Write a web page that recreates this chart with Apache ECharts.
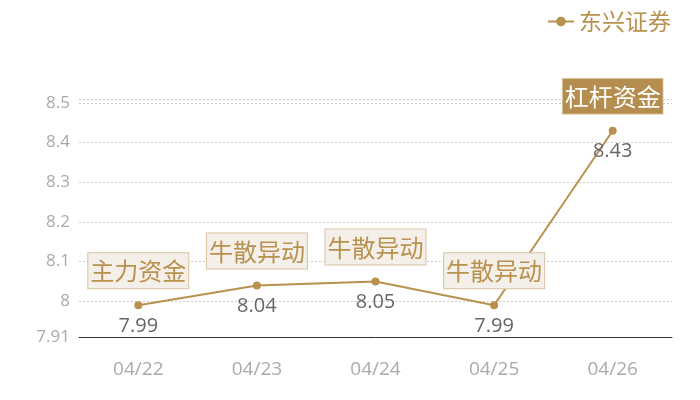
<!DOCTYPE html>
<html><head><meta charset="utf-8">
<script src="https://cdn.jsdelivr.net/npm/echarts@6/dist/echarts.min.js"></script>
<style>html,body{margin:0;padding:0;background:#fff}#c{width:700px;height:400px}</style>
</head><body><div id="c"></div>
<script>
var categories = ['04/22', '04/23', '04/24', '04/25', '04/26'];
var prices = [7.99, 8.04, 8.05, 7.99, 8.43];
var tags = ['主力资金', '牛散异动', '牛散异动', '牛散异动', '杠杆资金'];
var highlighted = [false, false, false, false, true];
var seriesName = '东兴证券';
var yMin = 7.91, yMax = 8.51;

var gold = '#b8914e';
var font = '"Noto Sans CJK SC", "Open Sans", sans-serif';
var numFont = '"Open Sans", "Noto Sans CJK SC", sans-serif';

var markData = categories.map(function (c, i) {
  var hl = highlighted[i];
  return {
    coord: [c, prices[i]],
    value: tags[i],
    label: {
      color: hl ? '#fff' : gold,
      backgroundColor: hl ? '#b58e4f' : '#f4efe8',
      borderColor: hl ? '#e6d8bf' : '#d8c3a0',
      borderWidth: 1
    }
  };
});

var chart = echarts.init(document.getElementById('c'));
chart.setOption({
  animation: false,
  textStyle: { fontFamily: font },
  legend: {
    data: [seriesName],
    right: 24, top: 5,
    itemWidth: 26, itemHeight: 12,
    textStyle: { color: gold, fontSize: 23, fontFamily: font }
  },
  grid: { left: 79, right: 28, top: 99, bottom: 63 },
  xAxis: {
    type: 'category',
    data: categories,
    axisLine: { lineStyle: { color: '#333', width: 1 } },
    axisTick: { show: false },
    axisLabel: { color: '#aaa', fontSize: 19, margin: 23, fontFamily: numFont }
  },
  yAxis: {
    type: 'value',
    min: yMin, max: yMax,
    axisLine: { show: false },
    axisTick: { show: false },
    axisLabel: { color: '#aaa', fontSize: 17, margin: 9, fontFamily: numFont },
    splitLine: { lineStyle: { color: '#ccc', type: [2, 2], width: 1 } }
  },
  series: [{
    name: seriesName,
    type: 'line',
    data: prices,
    symbol: 'circle',
    symbolSize: 8,
    itemStyle: { color: gold },
    lineStyle: { color: gold, width: 2 },
    label: {
      show: true, position: 'bottom', distance: 7,
      color: '#666', fontSize: 20, fontFamily: numFont
    },
    markPoint: {
      symbol: 'circle', symbolSize: 0,
      label: {
        show: true, position: 'top', distance: 17,
        fontSize: 24, fontFamily: font,
        padding: [6, 2, 5, 2],
        formatter: function (p) { return p.value; }
      },
      data: markData
    }
  }]
});
</script></body></html>
